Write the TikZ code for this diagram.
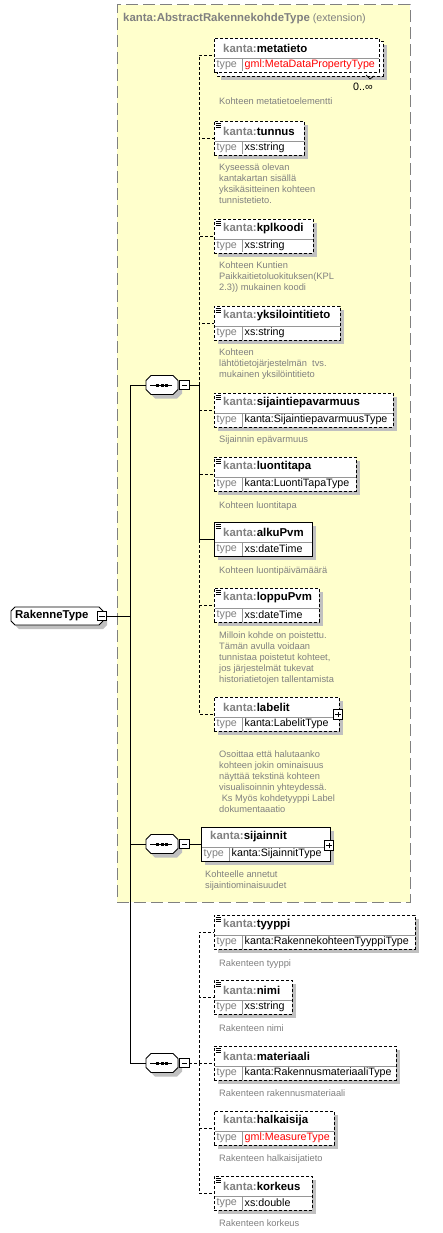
\documentclass[tikz,border=0pt]{standalone}
\usepackage{fontspec}
\setmainfont{Liberation Sans}
\definecolor{ygfill}{HTML}{FFFFCC}
\definecolor{kgray}{HTML}{808080}
\definecolor{shd}{HTML}{C0C0C0}
\definecolor{docgray}{HTML}{808080}
\definecolor{divgray}{HTML}{969696}
\newcommand\nmfont{\fontsize{11.4}{13}\selectfont\bfseries}
\newcommand\tyfont{\fontsize{10.7}{12}\selectfont}
\newcommand\dcfont{\fontsize{9.3}{11}\selectfont}
\tikzset{
 optb/.style={dash pattern=on 3pt off 2pt},
 reqb/.style={solid},
 elbox/.style={rectangle, draw=black, fill=white, line width=0.9pt, inner sep=0pt, outer sep=0pt, minimum height=34pt},
 divider/.style={draw=divgray, line width=0.8pt},
 nametxt/.style={anchor=west, inner sep=0pt, font=\nmfont},
 typelbl/.style={anchor=west, inner sep=0pt, font=\tyfont, text=kgray},
 typeval/.style={anchor=west, inner sep=0pt, font=\tyfont},
 doc/.style={anchor=north west, inner sep=0pt, align=left, font=\dcfont, text=docgray},
 conn/.style={line width=0.9pt},
 optc/.style={line width=0.9pt, dash pattern=on 3pt off 2pt},
 shadowfill/.style={fill=shd, draw=none},
 anchorbox/.style={rectangle, inner sep=0pt, outer sep=0pt, draw=none},
 pmbase/.style={rectangle, draw=black, fill=white, line width=0.8pt, inner sep=0pt, outer sep=0pt, minimum width=9.5pt, minimum height=9.5pt},
 minusbox/.style={pmbase, path picture={\draw[line width=0.8pt] ([xshift=2pt]path picture bounding box.west) -- ([xshift=-2pt]path picture bounding box.east);}},
 plusbox/.style={pmbase, path picture={\draw[line width=0.8pt] ([xshift=2pt]path picture bounding box.west) -- ([xshift=-2pt]path picture bounding box.east) ([yshift=2pt]path picture bounding box.south) -- ([yshift=-2pt]path picture bounding box.north);}},
 ygbox/.style={rectangle, fill=ygfill, draw=kgray, line width=1pt, dash pattern=on 12pt off 5pt, inner sep=0pt, outer sep=0pt},
}
% octagon: #1 cx, #2 cy, #3 w, #4 h, #5 chamfer, #6 style
\newcommand\octa[6]{\path[#6] ({#1-#3/2+#5},{#2-#4/2}) -- ({#1+#3/2-#5},{#2-#4/2}) -- ({#1+#3/2},{#2-#4/2+#5}) -- ({#1+#3/2},{#2+#4/2-#5}) -- ({#1+#3/2-#5},{#2+#4/2}) -- ({#1-#3/2+#5},{#2+#4/2}) -- ({#1-#3/2},{#2+#4/2-#5}) -- ({#1-#3/2},{#2-#4/2+#5}) -- cycle;}
% compositor: #1 id, #2 cx, #3 cy
\newcommand\compo[3]{%
 \octa{#2+4}{#3+4}{32}{19}{5}{shadowfill}
 \octa{#2}{#3}{32}{19}{5}{draw=black, fill=white, line width=0.9pt}
 \node[anchorbox, minimum width=32pt, minimum height=19pt] (#1) at (#2,#3) {};
 \draw[line width=1pt] ({#2-12},#3) -- ({#2+10},#3);
 \foreach \dx in {-4.5,0,4.5} \fill ({#2+\dx-1.5},{#3-1.5}) rectangle ({#2+\dx+1.5},{#3+1.5});
}
% element box: #1 id, #2 x, #3 top, #4 width, #5 name, #6 type, #7 border style, #8 icon flag
\newcommand\xel[8]{%
 \node[elbox,#7,minimum width=#4pt,anchor=north west] (#1) at (#2,#3) {};
 \draw[divider] ({#2+0.5},{#3+20}) -- ({#2+#4-0.5},{#3+20});
 \draw[divider] ({#2+28},{#3+20}) -- ({#2+28},{#3+33.5});
 \node[nametxt] (#1n) at ({#2+9},{#3+10}) {\textcolor{kgray}{kanta:}#5};
 \node[typelbl] (#1t) at ({#2+2.5},{#3+27}) {type};
 \node[typeval] (#1v) at ({#2+30.5},{#3+27}) {#6};
 \ifnum#8=1 \draw[line width=0.7pt] ({#2+1.5},{#3+2}) -- ++(5,0) ({#2+1.5},{#3+4}) -- ++(5,0) ({#2+1.5},{#3+6}) -- ++(5,0);\fi
}
\newcommand\xshadow[3]{\path[shadowfill] ({#1+4},{#2+4}) rectangle ({#1+#3+4},{#2+38});}
\newcommand\dnode[4]{\node[doc] (#1) at (#2,{#3-5}) {\rule{0pt}{8pt}#4};}
\begin{document}
\begin{tikzpicture}[x=1pt,y=-1pt]
\useasboundingbox (0,0) rectangle (443,1233);
\fill[white] (0,0) rectangle (443,1233);
% extension box
\node[ygbox, minimum width=293pt, minimum height=897pt, anchor=north west] (ext) at (117,5) {};
\node[anchor=west, inner sep=0pt, text=kgray] (exttitle) at (123,19) {{\nmfont kanta:AbstractRakennekohdeType}{\tyfont\ (extension)}};
% root
\octa{61}{620}{92}{18}{4}{shadowfill}
\octa{57}{616}{92}{18}{4}{draw=black, fill=white, line width=0.9pt}
\node[anchorbox, minimum width=92pt, minimum height=18pt] (root) at (57,616) {};
\node[nametxt] (rootlbl) at (15,616) {RakenneType};
\node[minusbox] (rm) at (102,616) {};
% compositors
\compo{s1}{162}{385}
\node[minusbox] (m1) at (184.5,385) {};
\compo{s2}{162}{844}
\node[minusbox] (m2) at (184.5,844) {};
\compo{s3}{162}{1063}
\node[minusbox] (m3) at (184.5,1063) {};
% metatieto (multiple)
\path[shadowfill] (221,45) rectangle (387,80);
\draw[optb, fill=white, line width=0.9pt] (217,41) rectangle (383,76);
\xel{meta}{214}{38}{165}{metatieto}{\textcolor{red}{gml:MetaDataPropertyType}}{optb}{0}
\draw[line width=0.7pt] (366,75) -- (370,79) -- (374,76);
\node[font=\tyfont, inner sep=0pt] (metaocc) at (363,87) {0..∞};
\dnode{metad}{219}{101}{Kohteen metatietoelementti}
% tunnus
\xshadow{214}{121}{90}
\xel{tunnus}{214}{121}{90}{tunnus}{xs:string}{optb}{1}
\dnode{tunnusd}{219}{167}{Kyseessä olevan\\kantakartan sisällä\\yksikäsitteinen kohteen\\tunnistetieto.}
% kplkoodi
\xshadow{214}{219}{99}
\xel{kpl}{214}{219}{99}{kplkoodi}{xs:string}{optb}{1}
\dnode{kpld}{219}{265}{Kohteen Kuntien\\Paikkaitietoluokituksen(KPL\\2.3)) mukainen koodi}
% yksilointitieto
\xshadow{214}{306}{126}
\xel{yksi}{214}{306}{126}{yksilointitieto}{xs:string}{optb}{1}
\dnode{yksid}{219}{352}{Kohteen\\lähtötietojärjestelmän\ \ tvs.\\mukainen yksilöintitieto}
% sijaintiepavarmuus
\xshadow{214}{393}{179}
\xel{sep}{214}{393}{179}{sijaintiepavarmuus}{kanta:SijaintiepavarmuusType}{optb}{1}
\dnode{sepd}{219}{439}{Sijainnin epävarmuus}
% luontitapa
\xshadow{214}{457}{142}
\xel{luo}{214}{457}{142}{luontitapa}{kanta:LuontiTapaType}{optb}{1}
\dnode{luod}{219}{505}{Kohteen luontitapa}
% alkuPvm
\xshadow{214}{522}{98}
\xel{alku}{214}{522}{98}{alkuPvm}{xs:dateTime}{reqb}{1}
\dnode{alkud}{219}{570}{Kohteen luontipäivämäärä}
% loppuPvm
\xshadow{214}{588}{105}
\xel{loppu}{214}{588}{105}{loppuPvm}{xs:dateTime}{optb}{1}
\dnode{loppud}{219}{635}{Milloin kohde on poistettu.\\Tämän avulla voidaan\\tunnistaa poistetut kohteet,\\jos järjestelmät tukevat\\historiatietojen tallentamista}
% labelit
\xshadow{214}{697}{125}
\xel{lab}{214}{697}{125}{labelit}{kanta:LabelitType}{optb}{0}
\node[plusbox] (labp) at (338,714.5) {};
\dnode{labd}{219}{754}{Osoittaa että halutaanko\\kohteen jokin ominaisuus\\näyttää tekstinä kohteen\\visualisoinnin yhteydessä.\\\ Ks Myös kohdetyyppi Label\\dokumentaaatio}
% sijainnit
\xshadow{201}{827}{129}
\xel{sij}{201}{827}{129}{sijainnit}{kanta:SijainnitType}{reqb}{0}
\node[plusbox] (sijp) at (329,845.5) {};
\dnode{sijd}{205}{874}{Kohteelle annetut\\sijaintiominaisuudet}
% third sequence
\xshadow{214}{915}{201}
\xel{tyy}{214}{915}{201}{tyyppi}{kanta:RakennekohteenTyyppiType}{optb}{1}
\dnode{tyyd}{219}{963}{Rakenteen tyyppi}
\xshadow{214}{980}{78}
\xel{nimi}{214}{980}{78}{nimi}{xs:string}{optb}{1}
\dnode{nimid}{219}{1028}{Rakenteen nimi}
\xshadow{214}{1046}{182}
\xel{mat}{214}{1046}{182}{materiaali}{kanta:RakennusmateriaaliType}{optb}{1}
\dnode{matd}{219}{1093}{Rakenteen rakennusmateriaali}
\xshadow{214}{1111}{120}
\xel{hal}{214}{1111}{120}{halkaisija}{\textcolor{red}{gml:MeasureType}}{optb}{0}
\dnode{hald}{219}{1158}{Rakenteen halkaisijatieto}
\xshadow{214}{1176}{98}
\xel{kor}{214}{1176}{98}{korkeus}{xs:double}{optb}{1}
\dnode{kord}{219}{1223}{Rakenteen korkeus}
% connectors
\coordinate (j0) at (130,616);
\draw[conn] (rm.east) -- (j0);
\draw[conn] (j0) |- (s1.west);
\draw[conn] (j0) |- (s2.west);
\draw[conn] (j0) |- (s3.west);
\coordinate (t1) at (199,385);
\draw[conn] (m1.east) -- (t1);
\draw[optc] (t1) |- (meta.west);
\draw[optc] (t1) |- (tunnus.west);
\draw[optc] (t1) |- (kpl.west);
\draw[optc] (t1) |- (yksi.west);
\draw[optc] (t1) |- (sep.west);
\draw[optc] (t1) |- (luo.west);
\draw[optc] (t1) |- (loppu.west);
\draw[optc] (t1) |- (lab.west);
\draw[conn] (t1) |- (alku.west);
\draw[conn] (m2.east) -- (sij.west);
\coordinate (t3) at (199,1063);
\draw[optc] (m3.east) -- (t3);
\draw[optc] (t3) |- (tyy.west);
\draw[optc] (t3) |- (nimi.west);
\draw[optc] (t3) |- (mat.west);
\draw[optc] (t3) |- (hal.west);
\draw[optc] (t3) |- (kor.west);
\end{tikzpicture}
\end{document}
